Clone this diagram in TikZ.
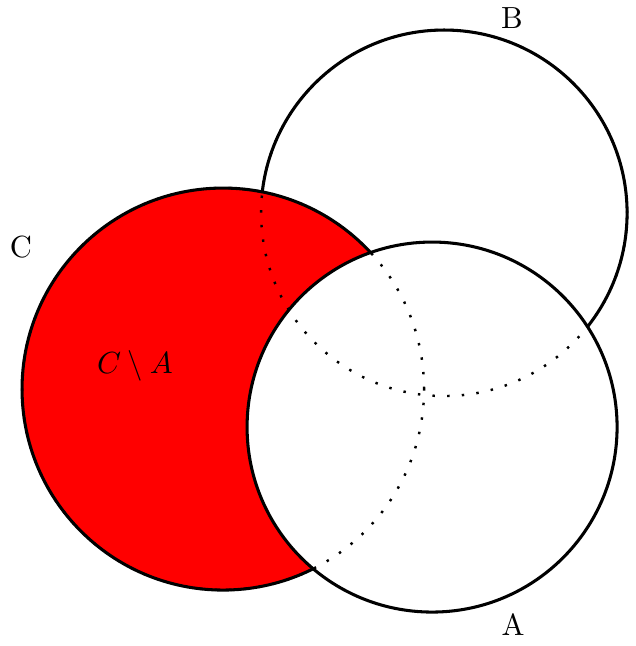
\documentclass[tikz,border=0pt]{standalone}
\usepackage{amsmath,amssymb}
\usepackage{tikz}
\usetikzlibrary{positioning}
\tikzset{hid/.style={line width=0.8pt,dash pattern=on 0.8pt off 4pt}}

\begin{document}
\begin{tikzpicture}[scale=1.15,line width=1pt]
  \useasboundingbox (0,0) rectangle (6.35,-6.46);
  \coordinate (cA) at (4.32,-4.27); \coordinate (cB) at (4.44,-2.13); \coordinate (cC) at (2.23,-3.89);
  \draw (cB) circle (1.83);
  \filldraw[fill=red] (cC) circle (2.01);
  \filldraw[fill=white] (cA) circle (1.85);
  % hidden arcs of B and C
  \draw[hid] (cB) circle (1.83) (cC) circle (2.01);
  \foreach \n/\p in {A/{5.13,-6.25},B/{5.12,-0.18},C/{0.21,-2.47}} \node (l\n) at (\p) {\n};
  \node (diff) at (1.35,-3.66) {$C\setminus A$};
\end{tikzpicture}
\end{document}
